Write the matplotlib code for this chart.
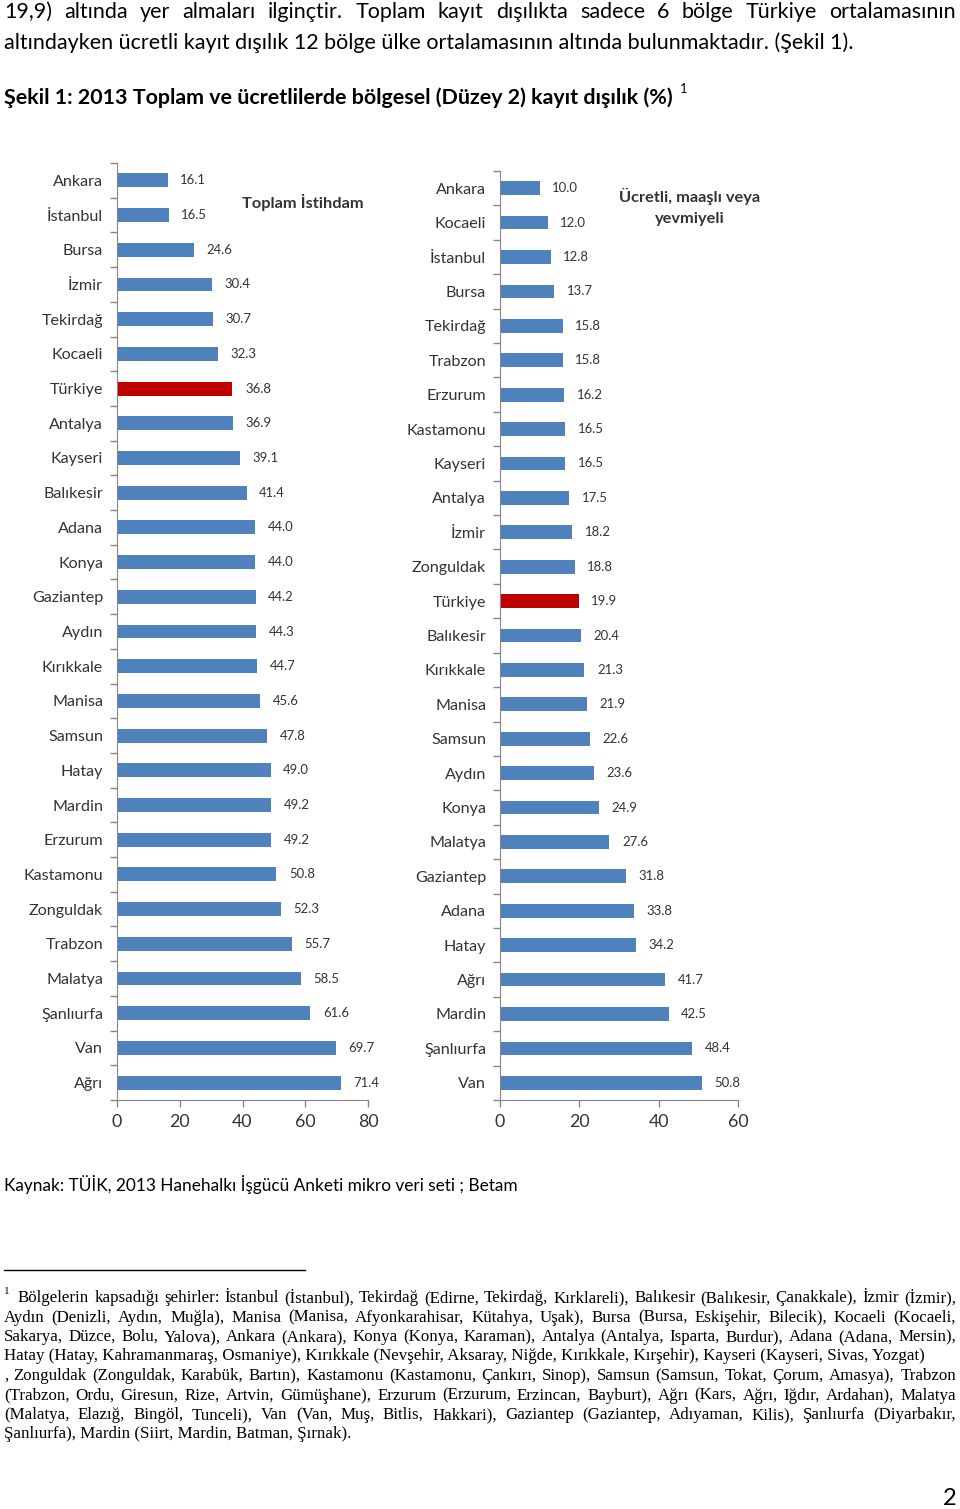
import matplotlib
matplotlib.use("Agg")
import matplotlib.pyplot as plt
import numpy as np

# ---- data -------------------------------------------------------------
regions_total = ["Ankara", "İstanbul", "Bursa", "İzmir", "Tekirdağ", "Kocaeli",
                 "Türkiye", "Antalya", "Kayseri", "Balıkesir", "Adana", "Konya",
                 "Gaziantep", "Aydın", "Kırıkkale", "Manisa", "Samsun", "Hatay",
                 "Mardin", "Erzurum", "Kastamonu", "Zonguldak", "Trabzon",
                 "Malatya", "Şanlıurfa", "Van", "Ağrı"]
values_total = [16.1, 16.5, 24.6, 30.4, 30.7, 32.3, 36.8, 36.9, 39.1, 41.4, 44.0,
                44.0, 44.2, 44.3, 44.7, 45.6, 47.8, 49.0, 49.2, 49.2, 50.8, 52.3,
                55.7, 58.5, 61.6, 69.7, 71.4]

regions_wage = ["Ankara", "Kocaeli", "İstanbul", "Bursa", "Tekirdağ", "Trabzon",
                "Erzurum", "Kastamonu", "Kayseri", "Antalya", "İzmir", "Zonguldak",
                "Türkiye", "Balıkesir", "Kırıkkale", "Manisa", "Samsun", "Aydın",
                "Konya", "Malatya", "Gaziantep", "Adana", "Hatay", "Ağrı", "Mardin",
                "Şanlıurfa", "Van"]
values_wage = [10.0, 12.0, 12.8, 13.7, 15.8, 15.8, 16.2, 16.5, 16.5, 17.5, 18.2,
               18.8, 19.9, 20.4, 21.3, 21.9, 22.6, 23.6, 24.9, 27.6, 31.8, 33.8,
               34.2, 41.7, 42.5, 48.4, 50.8]

para_line1 = "19,9) altında yer almaları ilginçtir. Toplam kayıt dışılıkta sadece 6 bölge Türkiye ortalamasının"
para_line2 = "altındayken ücretli kayıt dışılık 12 bölge ülke ortalamasının altında bulunmaktadır. (Şekil 1)."
heading = "Şekil 1: 2013 Toplam ve ücretlilerde bölgesel (Düzey 2) kayıt dışılık (%)"
source = "Kaynak: TÜİK, 2013 Hanehalkı İşgücü Anketi mikro veri seti ; Betam"
footnote = [
    "Bölgelerin kapsadığı şehirler: İstanbul (İstanbul), Tekirdağ (Edirne, Tekirdağ, Kırklareli), Balıkesir (Balıkesir, Çanakkale), İzmir (İzmir),",
    "Aydın (Denizli, Aydın, Muğla), Manisa (Manisa, Afyonkarahisar, Kütahya, Uşak), Bursa (Bursa, Eskişehir, Bilecik), Kocaeli (Kocaeli,",
    "Sakarya, Düzce, Bolu, Yalova), Ankara (Ankara), Konya (Konya, Karaman), Antalya (Antalya, Isparta, Burdur), Adana (Adana, Mersin),",
    "Hatay (Hatay, Kahramanmaraş, Osmaniye), Kırıkkale (Nevşehir, Aksaray, Niğde, Kırıkkale, Kırşehir), Kayseri (Kayseri, Sivas, Yozgat)",
    ", Zonguldak (Zonguldak, Karabük, Bartın), Kastamonu (Kastamonu, Çankırı, Sinop), Samsun (Samsun, Tokat, Çorum, Amasya), Trabzon",
    "(Trabzon, Ordu, Giresun, Rize, Artvin, Gümüşhane), Erzurum (Erzurum, Erzincan, Bayburt), Ağrı (Kars, Ağrı, Iğdır, Ardahan), Malatya",
    "(Malatya, Elazığ, Bingöl, Tunceli), Van (Van, Muş, Bitlis, Hakkari), Gaziantep (Gaziantep, Adıyaman, Kilis), Şanlıurfa (Diyarbakır,",
    "Şanlıurfa), Mardin (Siirt, Mardin, Batman, Şırnak).",
]
footnote_justified = [True, True, True, False, True, True, True, False]

# ---- figure -----------------------------------------------------------
W, H = 960, 1509
SANS = "Lato"
SERIF = "Liberation Serif"
BLUE = "#4F81BD"
RED = "#C00000"
GRAY = "#868686"
DARK = "#333333"

fig = plt.figure(figsize=(W / 100, H / 100), dpi=100)
fig.patch.set_facecolor("white")
renderer = fig.canvas.get_renderer()


def fx(px):
    return px / W


def fy(py):
    return 1 - py / H


def text_width(s, size, family, weight="normal"):
    t = fig.text(0, 0, s, fontsize=size, family=family, weight=weight)
    w = t.get_window_extent(renderer).width
    t.remove()
    return w


def fit_size(s, target, family, weight="normal"):
    return 10 * target / text_width(s, 10, family, weight)


def put(x, y, s, size, family, **kw):
    return fig.text(fx(x), fy(y), s, fontsize=size, family=family,
                    va="baseline", ha=kw.pop("ha", "left"), **kw)


def justified(line, x0, x1, y, size, family):
    words = line.split(" ")
    widths = [text_width(w, size, family) for w in words]
    gap = (x1 - x0 - sum(widths)) / (len(words) - 1)
    x = x0
    for w, wd in zip(words, widths):
        put(x, y, w, size, family)
        x += wd + gap


# top paragraph
p_size = fit_size(para_line2, 849, SANS)
justified(para_line1, 4, 956, 18, p_size, SANS)
put(4, 49, para_line2, p_size, SANS)

h_size = fit_size(heading, 670, SANS, "bold")
put(4, 104, heading, h_size, SANS, weight="bold")
put(680, 93, "1", h_size * 0.6, SANS)


# ---- bar panels -------------------------------------------------------
tick_size = fit_size("Kastamonu", 80, SANS)
val_size = fit_size("16.1", 26, SANS)


def bar_panel(left, top, right, bottom, cats, vals, xmax):
    ax = fig.add_axes([fx(left), fy(bottom), (right - left) / W, (bottom - top) / H])
    y = np.arange(len(cats))
    colors = [RED if c == "Türkiye" else BLUE for c in cats]
    bars = ax.barh(y, vals, height=0.4, color=colors)
    ax.set_ylim(len(cats) - 0.5, -0.5)
    ax.set_xlim(0, xmax)
    ax.set_xticks(np.arange(0, xmax + 1, 20))
    ax.set_yticks(y)
    ax.set_yticklabels(cats, family=SANS, fontsize=tick_size, color=DARK)
    ax.set_yticks(np.arange(-0.5, len(cats)), minor=True)
    ax.tick_params(axis="y", which="major", length=0, pad=10)
    ax.tick_params(axis="y", which="minor", length=5, color=GRAY, width=1)
    ax.tick_params(axis="x", length=5, color=GRAY, width=1, pad=5,
                   labelsize=tick_size * 1.1, labelcolor=DARK)
    for lab in ax.get_xticklabels():
        lab.set_family(SANS)
    for s in ["top", "right"]:
        ax.spines[s].set_visible(False)
    for s in ["left", "bottom"]:
        ax.spines[s].set_color(GRAY)
    ax.bar_label(bars, labels=[f"{v:.1f}" for v in vals], padding=9,
                 fontsize=val_size, family=SANS, color=DARK)
    return ax


bar_panel(117, 163, 368, 1100, regions_total, values_total, 80)
bar_panel(500, 171, 738, 1100, regions_wage, values_wage, 60)

t_size = fit_size("Toplam İstihdam", 122, SANS, "bold")
put(303, 208, "Toplam İstihdam", t_size, SANS, weight="bold", ha="center", color=DARK)
put(690, 202, "Ücretli, maaşlı veya", t_size, SANS, weight="bold", ha="center", color=DARK)
put(690, 223, "yevmiyeli", t_size, SANS, weight="bold", ha="center", color=DARK)

# source
s_size = fit_size(source, 512, SANS)
put(4, 1191, source, s_size, SANS)

# footnote separator and text
fig.add_artist(plt.Line2D([fx(4), fx(305)], [fy(1270), fy(1270)], color="black", lw=1))
f_size = fit_size(footnote[3], 917, SERIF)
put(4, 1294, "1", f_size * 0.65, SERIF)
for i, (line, just) in enumerate(zip(footnote, footnote_justified)):
    yb = 1302 + i * 19.5
    x0 = 18 if i == 0 else 4
    if just:
        justified(line, x0, 956, yb, f_size, SERIF)
    else:
        put(x0, yb, line, f_size, SERIF)

put(956, 1505, "2", 17, SANS, ha="right")

fig.savefig("out.png", dpi=100, facecolor="white")
